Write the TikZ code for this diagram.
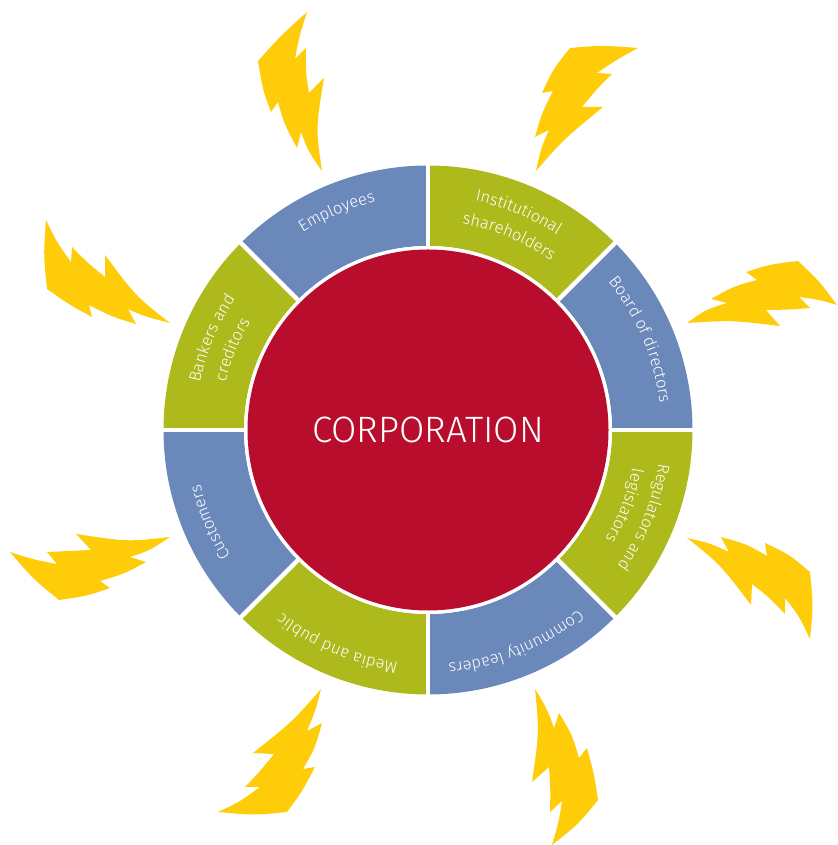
\documentclass[tikz,border=0pt]{standalone}
\usepackage{fontspec}
\setmainfont{Fira Sans}[UprightFont=* Light]
\usetikzlibrary{calc,decorations.text}
\definecolor{segblue}{HTML}{6A88BA}
\definecolor{seggreen}{HTML}{AEB91C}
\definecolor{corered}{HTML}{B80D2C}
\definecolor{boltyellow}{HTML}{FFCC0A}
\newcommand{\seglabelfont}{\fontsize{16.5}{16.5}\selectfont\color{white}}
\newcommand{\segsector}[2]{%
  \fill[#2] ($(428,415)+(#1:264.5)$) arc[start angle=#1,delta angle=45,radius=264.5pt]
     -- ($(428,415)+(#1+45:184)$) arc[start angle=#1+45,delta angle=-45,radius=184pt] -- cycle;}
\newcommand{\arclabel}[3]{%
  \path[postaction={decorate},decoration={text along path,text align=center,
     text={|\seglabelfont|#3}}]
     ($(428,415)+(#1+45:#2)$) arc[start angle=#1+45,end angle=#1-45,radius=#2pt];}
\tikzset{boltshape/.style={fill=boltyellow,draw=none},
  spoke/.style={draw=white,line width=4.5pt}}
\begin{document}
\begin{tikzpicture}[x=1pt,y=1pt]
\useasboundingbox (0,0) rectangle (837,845);
\coordinate (ctr) at (428,415);
% sectors
\segsector{0}{segblue}
\segsector{45}{seggreen}
\segsector{90}{segblue}
\segsector{135}{seggreen}
\segsector{180}{segblue}
\segsector{225}{seggreen}
\segsector{270}{segblue}
\segsector{315}{seggreen}
% separating spokes
\foreach \a in {0,45,...,315}
  \draw[spoke] ($(ctr)+(\a:178)$) -- ($(ctr)+(\a:268)$);
\fill[white] (ctr) circle[radius=184pt];
\node[circle,fill=corered,minimum size=361pt,inner sep=0pt,text=white,font=\fontsize{36.7}{36.7}\selectfont] (core) at (ctr) {CORPORATION};
% labels
\arclabel{67.4}{234}{Institutional}
\arclabel{67.3}{209}{shareholders}
\arclabel{23}{233}{Board of directors}
\arclabel{112.7}{234}{Employees}
\arclabel{157}{233}{Bankers and}
\arclabel{157.7}{208}{creditors}
\arclabel{-22}{233}{Regulators and}
\arclabel{-21}{208}{legislators}
\arclabel{-67.5}{234}{Community leaders}
\arclabel{-113}{234}{Media and public}
\arclabel{-157}{234}{Customers}
% bolts
\begin{scope}[y=-1pt,yshift=845pt]
\path[boltshape] (307,12) .. controls (281,35.5) .. (258,61) .. controls (262.8,90.2) .. (271,112) -- (278,102) .. controls (283.8,123) .. (297,148) -- (301,132) .. controls (307.8,150.5) .. (322,171) .. controls (315.7,128.2) .. (324,78) -- (309,93) .. controls (305.8,73.5) .. (306,48) -- (295,59) .. controls (299,37.2) .. (307,12) -- cycle;
\path[boltshape] (638,48) .. controls (601.3,45.3) .. (570,48) .. controls (553.3,68.8) .. (542,93) -- (553,91) .. controls (542,112.7) .. (535,137) -- (549,130) .. controls (540.8,148.8) .. (536,171) .. controls (563.2,139.7) .. (603,107) -- (582,107) .. controls (597,88.8) .. (612,74) -- (597,73) .. controls (615.8,60.2) .. (638,48) -- cycle;
\path[boltshape] (798,261) .. controls (770.7,264.2) .. (746,272) -- (757,280) .. controls (733.3,286.5) .. (711,299) -- (727,303) .. controls (705.7,309.7) .. (687,323) .. controls (731.2,320.2) .. (780,326) -- (766,310) .. controls (789.3,309.7) .. (810,308) -- (799,297) .. controls (819.3,299.7) .. (837,305) .. controls (819.2,281) .. (798,261) -- cycle;
\path[boltshape] (687,538) .. controls (709.3,543) .. (729,552) -- (721,537) .. controls (746.7,544.2) .. (767,556) -- (765,543) .. controls (789.2,554.5) .. (810,572) .. controls (813.3,605.2) .. (810,639) .. controls (799.2,616.2) .. (785,598) -- (785,614) .. controls (769.5,597.7) .. (752,584) -- (751,605) .. controls (719.7,563.8) .. (687,538) -- cycle;
\path[boltshape] (535,689) .. controls (546.8,708.2) .. (554,728) -- (559,713) .. controls (572.3,735.2) .. (579,758) -- (587,748) .. controls (594.2,774.7) .. (598,800) .. controls (578.3,824.2) .. (552,845) .. controls (559,821) .. (562,801) -- (550,812) .. controls (550.5,789.8) .. (549,767) -- (532,782) .. controls (539.2,731.8) .. (535,689) -- cycle;
\path[boltshape] (321,689) .. controls (315.3,711.3) .. (307,731) -- (322,723) .. controls (314.8,748.7) .. (303,769) -- (315,767) .. controls (302.3,791.2) .. (287,812) .. controls (254.2,815.3) .. (218,812) .. controls (239.7,801.8) .. (260,787) -- (245,787) .. controls (259.8,771.5) .. (274,754) -- (253,753) .. controls (292.3,721.7) .. (321,689) -- cycle;
\path[boltshape] (170,537) .. controls (127.7,541.8) .. (76,534) -- (91,550) .. controls (69.7,551.7) .. (47,552) -- (57,564) .. controls (32.5,559.3) .. (10,552) .. controls (32.8,578.7) .. (59,600) .. controls (86.8,596) .. (110,588) -- (100,581) .. controls (124.3,573.8) .. (146,562) -- (130,557) .. controls (150,550.3) .. (170,537) -- cycle;
\path[boltshape] (46,220) .. controls (56.8,242.3) .. (71,262) -- (72,247) .. controls (87.5,262.7) .. (105,277) -- (105,255) .. controls (135.8,296.3) .. (170,323) .. controls (143,316) .. (128,309) -- (136,324) .. controls (112.2,316.8) .. (89,305) -- (92,317) .. controls (69.8,305) .. (47,289) .. controls (43.5,254.8) .. (46,220) -- cycle;
\end{scope}
\end{tikzpicture}
\end{document}
